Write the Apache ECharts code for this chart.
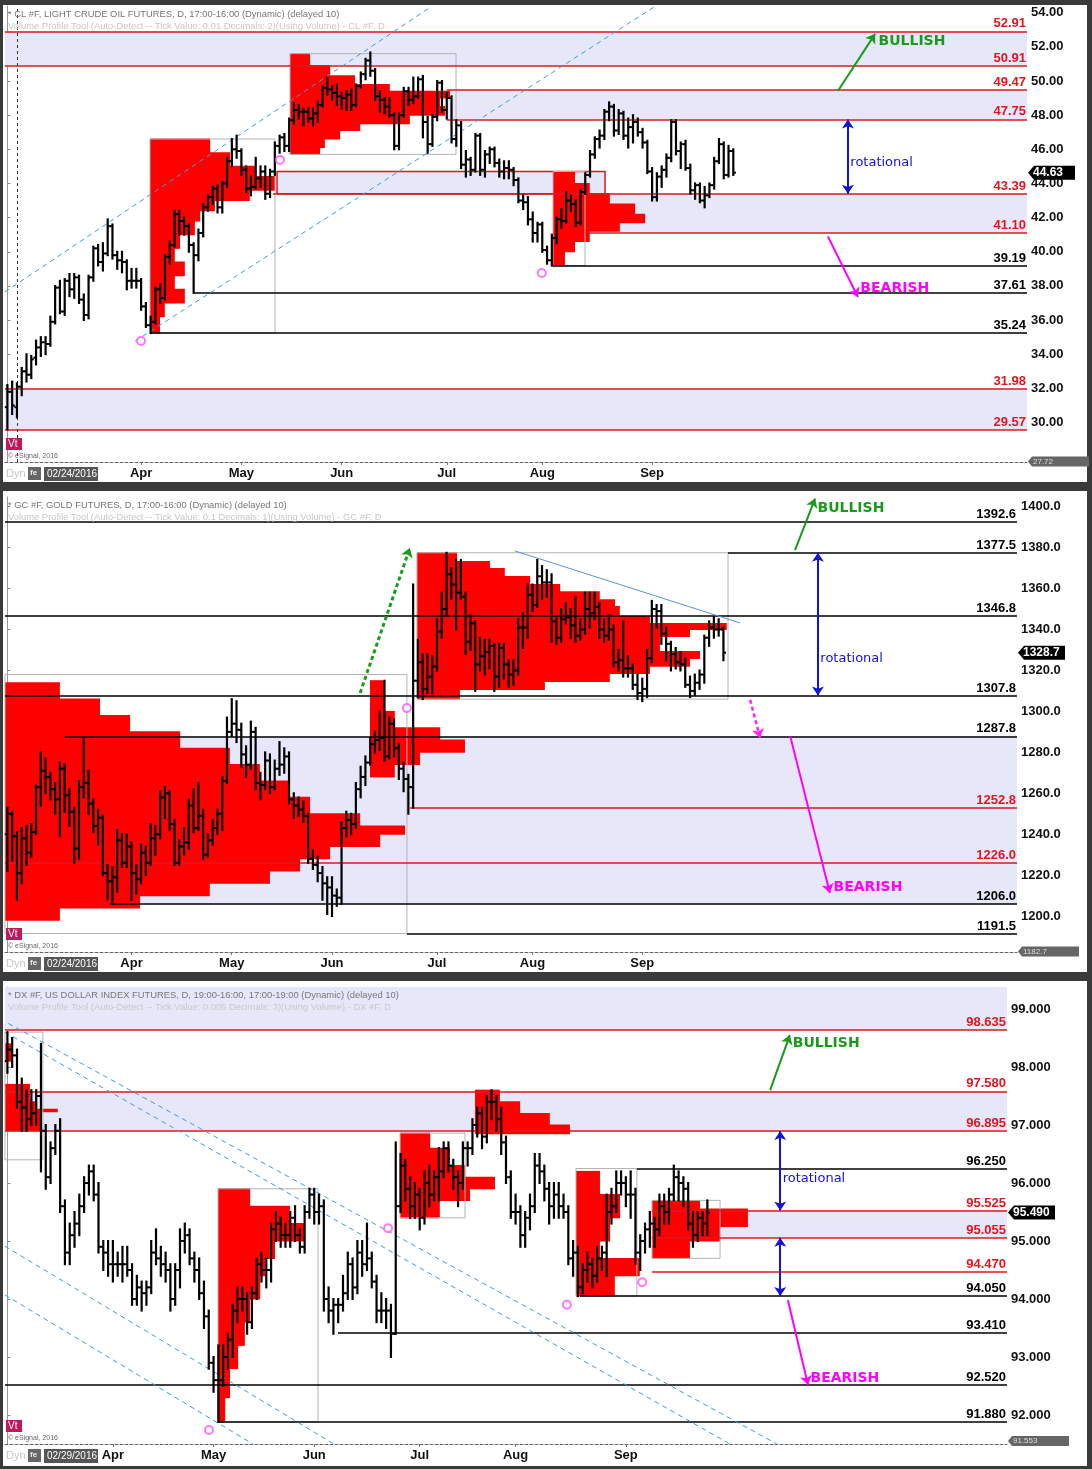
<!DOCTYPE html>
<html>
<head>
<meta charset="utf-8">
<script src="https://cdn.jsdelivr.net/npm/echarts@6/dist/echarts.min.js"></script>
<style>
  html, body { margin: 0; padding: 0; background: #3a3a3a; }
  .panel { position: absolute; left: 3px; width: 1084px; background: #fff; }
  #chart { position: absolute; left: 0; top: 0; width: 1092px; height: 1469px; }
</style>
</head>
<body>
<div class="panel" style="top:5px;height:477px"></div>
<div class="panel" style="top:491px;height:481px"></div>
<div class="panel" style="top:981px;height:485px"></div>
<div id="chart"></div>
<script>
// ---------- data ----------
const holidays = ['2016-03-25', '2016-05-30', '2016-07-04', '2016-09-05', '2016-11-24', '2016-12-26'];
const monthNames = { '04': 'Apr', '05': 'May', '06': 'Jun', '07': 'Jul', '08': 'Aug', '09': 'Sep' };

// crude oil, daily [open, high, low, close] from 2016-02-22
const clBars = [
  [30.9,32.2,29.6,31.8],[31.8,32.4,30.5,31.0],[30.9,32.3,30.3,32.1],[32.1,33.2,31.6,33.0],[33.0,34.0,32.4,32.8],
  [32.8,33.9,32.6,33.7],[33.8,34.8,33.4,34.4],[34.4,35.0,33.9,34.7],[34.7,35.0,34.0,34.6],[34.6,36.2,34.5,35.9],
  [35.9,38.0,35.8,37.9],[37.9,38.3,36.4,36.5],[36.5,38.4,36.3,38.3],[38.3,38.7,37.4,37.8],[37.8,38.7,37.3,38.5],
  [38.5,38.6,37.0,37.2],[37.2,37.5,36.0,36.3],[36.3,38.6,36.1,38.5],[38.5,40.3,38.3,40.2],[40.2,40.4,39.2,39.4],
  [39.4,40.5,38.9,39.9],[39.9,41.9,39.8,41.5],[41.5,41.6,39.6,39.8],[39.8,40.0,39.0,39.5],[39.5,40.0,38.8,39.4],
  [39.4,39.5,37.8,38.3],[38.3,39.0,37.9,38.3],[38.3,39.0,37.9,38.3],[38.3,38.4,36.6,36.8],[36.8,37.0,35.6,35.7],
  [35.7,36.2,35.24,35.9],[35.9,37.9,35.8,37.8],[37.8,38.1,37.0,37.3],[37.3,39.8,37.2,39.7],[39.7,40.6,39.3,40.4],
  [40.4,42.4,40.3,42.2],[42.2,42.4,41.0,41.8],[41.8,42.0,41.0,41.5],[41.5,41.6,40.0,40.4],[40.4,40.5,37.61,39.8],
  [39.8,41.3,39.5,41.1],[41.1,42.8,40.9,42.6],[42.6,43.3,42.4,43.2],[43.2,43.8,42.8,43.7],[43.7,43.9,42.3,42.6],
  [42.6,44.1,42.3,44.0],[44.0,45.5,43.8,45.3],[45.3,46.6,45.0,46.0],[46.0,46.8,45.5,45.9],[45.9,46.0,44.5,44.8],
  [44.8,45.0,43.5,43.7],[43.7,44.4,43.3,43.8],[43.8,45.5,43.7,44.3],[44.3,45.0,43.8,44.7],[44.7,45.0,43.1,43.4],
  [43.4,44.8,43.2,44.7],[44.7,46.4,44.5,46.2],[46.2,46.8,45.8,46.7],[46.7,46.9,45.9,46.2],[46.2,47.8,45.9,47.7],
  [47.7,48.7,47.5,48.3],[48.3,48.6,47.8,48.2],[48.2,48.4,47.4,48.2],[48.2,48.4,47.6,47.8],[47.8,48.4,47.4,48.1],
  [48.1,48.8,47.6,48.6],[48.6,49.7,48.5,49.6],[49.6,50.2,49.2,49.5],[49.5,49.7,48.9,49.3],[49.3,49.8,48.6,49.1],
  [49.1,49.3,48.4,49.0],[49.0,49.4,48.3,49.2],[49.2,49.5,48.3,48.6],[48.6,49.8,48.5,49.7],[49.7,50.5,49.6,50.4],
  [50.4,51.3,50.1,51.2],[51.2,51.67,50.3,50.6],[50.6,50.7,48.9,49.1],[49.1,49.4,48.2,48.9],[48.9,49.0,48.1,48.5],
  [48.5,49.0,47.9,48.0],[48.0,48.1,46.0,46.2],[46.2,48.1,46.0,48.0],[48.0,49.6,47.9,49.4],[49.4,49.6,48.6,48.9],
  [48.9,50.2,48.7,49.1],[49.1,50.2,49.0,50.1],[50.1,50.3,46.7,47.6],[47.6,47.9,45.8,46.3],[46.3,48.0,46.2,47.9],
  [47.9,50.0,47.7,49.9],[49.9,50.0,48.2,48.3],[48.3,49.3,47.8,49.0],[49.0,49.1,46.4,46.6],[46.6,47.7,46.2,47.4],
  [47.4,47.6,44.9,45.1],[45.1,45.9,44.4,45.4],[45.4,45.5,44.5,44.8],[44.8,46.9,44.7,46.8],[46.8,46.9,44.5,44.8],
  [44.8,45.9,44.4,45.7],[45.7,46.1,45.2,46.0],[46.0,46.1,45.0,45.2],[45.2,45.4,44.4,44.7],[44.7,45.3,44.3,44.9],
  [44.9,45.3,44.3,44.8],[44.8,44.9,43.9,44.2],[44.2,44.3,42.9,43.0],[43.0,43.3,42.5,42.9],[42.9,43.2,41.6,41.9],
  [41.9,42.3,40.6,41.1],[41.1,41.7,40.6,41.6],[41.6,41.7,40.0,40.1],[40.1,40.3,39.3,39.5],[39.5,41.0,39.19,40.8],
  [40.8,42.0,40.5,41.9],[41.9,42.5,41.4,41.8],[41.8,43.5,41.7,43.0],[43.0,43.3,42.4,42.8],[42.8,43.0,41.5,41.7],
  [41.7,43.6,41.6,43.5],[43.5,44.6,43.4,44.5],[44.5,45.9,44.4,45.7],[45.7,46.7,45.5,46.6],[46.6,47.1,46.1,46.8],
  [46.8,48.3,46.6,48.2],[48.2,48.75,47.7,48.5],[48.5,48.6,46.8,47.1],[47.1,48.3,46.9,48.1],[48.1,48.2,46.6,46.8],
  [46.8,47.8,46.1,47.3],[47.3,48.0,46.4,47.6],[47.6,47.8,46.8,47.0],[47.0,47.2,46.1,46.4],[46.4,46.5,44.6,44.7],
  [44.7,44.9,43.0,43.2],[43.2,44.6,43.0,44.4],[44.4,45.0,43.8,44.8],[44.8,45.7,44.4,45.5],[45.5,47.7,45.3,47.6],
  [47.6,47.7,45.7,45.9],[45.9,46.4,44.9,46.3],[46.3,46.5,44.8,44.9],[44.9,45.1,43.4,43.6],[43.6,44.0,43.1,43.9],
  [43.9,44.0,42.9,43.0],[43.0,43.8,42.6,43.3],[43.3,44.0,43.2,43.9],[43.9,45.5,43.7,45.3],[45.3,46.6,45.2,46.3],
  [46.3,46.4,44.3,44.5],[44.5,46.2,44.4,45.9],[45.9,46.0,44.5,44.63]
];

// gold, daily [open, high, low, close] from 2016-02-24
const gcBars = [
  [1240,1253,1222,1250],[1250,1251,1227,1239],[1239,1241,1208,1221],[1221,1243,1216,1238],[1238,1244,1225,1231],
  [1231,1245,1229,1241],[1241,1264,1240,1263],[1263,1280,1254,1271],[1271,1277,1260,1268],[1268,1270,1257,1262],
  [1262,1265,1250,1257],[1257,1275,1239,1272],[1272,1274,1251,1259],[1259,1262,1244,1251],[1251,1253,1226,1233],
  [1233,1266,1228,1263],[1263,1287,1258,1265],[1265,1271,1250,1255],[1255,1257,1241,1244],[1244,1252,1235,1248],
  [1248,1249,1220,1221],[1221,1225,1208,1217],[1217,1224,1207,1219],[1219,1242,1212,1237],[1237,1240,1224,1226],
  [1226,1240,1224,1234],[1234,1236,1208,1221],[1221,1225,1211,1218],[1218,1235,1216,1231],[1231,1234,1220,1226],
  [1226,1245,1225,1238],[1238,1244,1230,1240],[1240,1261,1238,1258],[1258,1263,1248,1260],[1260,1261,1242,1245],
  [1245,1247,1225,1226],[1226,1237,1225,1234],[1234,1243,1230,1236],[1236,1257,1233,1254],[1254,1262,1241,1243],
  [1243,1265,1242,1249],[1249,1252,1228,1230],[1230,1240,1229,1237],[1237,1247,1235,1243],[1243,1252,1240,1250],
  [1250,1268,1242,1266],[1266,1297,1265,1290],[1290,1306,1288,1294],[1294,1305,1285,1291],[1291,1294,1273,1279],
  [1279,1283,1268,1274],[1274,1295,1272,1290],[1290,1292,1262,1265],[1265,1270,1257,1264],[1264,1280,1262,1276],
  [1276,1279,1260,1263],[1263,1276,1262,1272],[1272,1285,1269,1274],[1274,1282,1270,1278],[1278,1280,1255,1257],
  [1257,1260,1248,1254],[1254,1258,1249,1252],[1252,1256,1246,1249],[1249,1250,1226,1228],[1228,1232,1223,1225],
  [1225,1229,1217,1221],[1221,1224,1208,1216],[1216,1219,1201,1214],[1214,1219,1200,1210],[1210,1213,1205,1209],
  [1209,1246,1206,1243],[1243,1251,1239,1247],[1247,1250,1240,1245],[1245,1265,1243,1262],[1262,1273,1258,1268],
  [1268,1278,1264,1275],[1275,1287,1274,1284],[1284,1290,1280,1286],[1286,1300,1281,1287],[1287,1315,1276,1278],
  [1278,1297,1277,1294],[1294,1296,1278,1282],[1282,1284,1267,1272],[1272,1275,1261,1267],[1267,1269,1250,1263],
  [1263,1362,1253,1315],[1315,1335,1307,1324],[1324,1328,1306,1311],[1311,1328,1309,1317],[1317,1327,1309,1322],
  [1322,1345,1320,1339],[1339,1358,1336,1350],[1350,1377.5,1347,1367],[1367,1370,1355,1362],[1362,1374,1340,1358],
  [1358,1374,1355,1356],[1356,1358,1328,1334],[1334,1347,1330,1343],[1343,1344,1310,1323],[1323,1336,1320,1327],
  [1327,1335,1318,1329],[1329,1335,1321,1332],[1332,1333,1310,1317],[1317,1333,1312,1331],[1331,1333,1316,1323],
  [1323,1325,1312,1318],[1318,1325,1313,1320],[1320,1345,1318,1341],[1341,1348,1331,1341],[1341,1362,1336,1357],
  [1357,1362,1349,1352],[1352,1374,1351,1366],[1366,1371,1355,1363],[1363,1369,1356,1363],[1363,1367,1334,1344],
  [1344,1346,1333,1336],[1336,1350,1334,1345],[1345,1353,1343,1346],[1346,1350,1336,1342],[1342,1356,1334,1337],
  [1337,1345,1335,1340],[1340,1358,1338,1350],[1350,1358,1341,1348],[1348,1358,1345,1351],[1351,1353,1336,1340],
  [1340,1345,1334,1337],[1337,1347,1335,1340],[1340,1342,1322,1324],[1324,1330,1320,1325],[1325,1344,1317,1321],
  [1321,1327,1317,1321],[1321,1323,1311,1313],[1313,1318,1306,1309],[1309,1316,1305,1311],[1311,1330,1307,1326],
  [1326,1354,1324,1350],[1350,1352,1341,1349],[1349,1352,1333,1338],[1338,1341,1325,1333],[1333,1334,1320,1328],
  [1328,1331,1321,1324],[1324,1329,1320,1323],[1323,1326,1312,1313],[1313,1317,1307,1310],[1310,1318,1308,1314],
  [1314,1320,1311,1318],[1318,1337,1314,1336],[1336,1344,1332,1341],[1341,1346,1336,1340],[1340,1345,1337,1340],
  [1340,1341,1325,1328.7]
];

// us dollar index, daily [open, high, low, close] from 2016-03-01
const dxBars = [
  [98.1,98.6,97.9,98.3],[98.3,98.5,98.0,98.2],[98.2,98.3,97.3,97.4],[97.4,97.8,96.9,97.3],[97.3,97.6,96.9,97.1],
  [97.1,97.6,97.0,97.2],[97.2,97.6,97.0,97.5],[97.5,98.4,96.2,96.9],[96.9,97.0,95.9,96.1],[96.1,96.7,96.0,96.6],
  [96.6,97.0,96.5,96.9],[96.9,97.1,95.5,95.6],[95.6,95.7,94.6,94.8],[94.8,95.3,94.6,95.1],[95.1,95.5,94.9,95.3],
  [95.3,95.8,95.1,95.6],[95.6,96.1,95.5,96.0],[96.0,96.3,95.8,96.2],[96.2,96.3,95.7,95.8],[95.8,96.0,94.8,94.9],
  [94.9,95.0,94.5,94.8],[94.8,95.0,94.4,94.6],[94.6,95.0,94.3,94.6],[94.6,94.8,94.4,94.6],[94.6,94.9,94.3,94.6],
  [94.6,94.9,94.4,94.5],[94.5,94.6,93.9,94.0],[94.0,94.4,93.9,94.2],[94.2,94.3,93.8,94.1],[94.1,94.3,93.9,94.2],
  [94.2,95.0,94.1,94.8],[94.8,95.2,94.6,94.7],[94.7,94.9,94.4,94.6],[94.6,94.8,94.3,94.5],[94.5,94.6,93.8,94.0],
  [94.0,94.6,93.9,94.5],[94.5,95.2,94.2,95.0],[95.0,95.3,94.8,95.1],[95.1,95.2,94.6,94.7],[94.7,94.8,94.3,94.5],
  [94.5,94.7,94.0,94.1],[94.1,94.3,93.5,93.7],[93.7,93.8,92.8,92.9],[92.9,93.0,92.4,92.6],[92.6,93.2,91.88,92.6],
  [92.6,93.2,92.5,93.0],[93.0,93.4,92.8,93.3],[93.3,93.9,93.0,93.8],[93.8,94.2,93.6,94.0],[94.0,94.2,93.8,94.0],
  [94.0,94.1,93.4,93.6],[93.6,94.2,93.5,94.1],[94.1,94.7,94.0,94.6],[94.6,94.8,94.3,94.5],[94.5,94.7,94.2,94.5],
  [94.5,95.3,94.3,95.2],[95.2,95.5,95.0,95.3],[95.3,95.4,94.9,95.1],[95.1,95.3,94.9,95.1],[95.1,95.5,94.9,95.4],
  [95.4,95.6,95.0,95.1],[95.1,95.2,94.8,94.9],[94.9,95.6,94.8,95.5],[95.5,95.9,95.4,95.8],[95.8,95.9,95.3,95.5],
  [95.5,95.8,95.3,95.6],[95.6,95.7,93.8,94.0],[94.0,94.2,93.6,93.8],[93.8,94.0,93.4,93.9],[93.9,94.0,93.6,93.9],
  [93.9,94.4,93.8,94.1],[94.1,94.8,94.0,94.6],[94.6,94.7,94.0,94.2],[94.2,95.0,94.1,94.8],[94.8,95.0,94.4,94.6],
  [94.6,95.3,94.5,94.7],[94.7,94.8,94.2,94.3],[94.3,94.4,93.6,93.8],[93.8,94.1,93.6,93.8],[93.8,94.0,93.5,93.8],
  [93.8,93.9,93.0,93.4],[93.4,96.7,93.4,95.6],[95.6,96.5,95.5,96.3],[96.3,96.4,95.7,95.9],[95.9,96.1,95.4,95.6],
  [95.6,96.0,95.4,95.8],[95.8,95.9,95.2,95.4],[95.4,96.2,95.3,96.0],[96.0,96.3,95.6,95.8],[95.8,96.2,95.7,96.1],
  [96.1,96.6,95.7,96.2],[96.2,96.7,96.1,96.6],[96.6,96.7,96.2,96.3],[96.3,96.4,95.9,96.1],[96.1,96.2,95.6,96.0],
  [96.0,96.7,95.9,96.6],[96.6,96.7,96.3,96.6],[96.6,97.1,96.5,97.0],[97.0,97.3,96.8,97.2],[97.2,97.3,96.6,96.8],
  [96.8,97.5,96.7,97.4],[97.4,97.6,97.1,97.4],[97.4,97.5,96.9,97.1],[97.1,97.3,96.5,96.7],[96.7,96.8,96.0,96.1],
  [96.1,96.2,95.4,95.5],[95.5,95.8,95.3,95.5],[95.5,95.6,94.9,95.1],[95.1,95.5,94.9,95.4],[95.4,95.8,95.2,95.6],
  [95.6,96.5,95.5,96.3],[96.3,96.5,96.0,96.2],[96.2,96.3,95.7,95.9],[95.9,96.0,95.3,95.6],[95.6,96.0,95.4,95.8],
  [95.8,96.0,95.4,95.6],[95.6,95.8,95.4,95.5],[95.5,95.6,94.6,94.7],[94.7,95.0,94.4,94.8],[94.8,94.9,94.05,94.2],
  [94.2,94.6,94.1,94.5],[94.5,94.8,94.3,94.6],[94.6,94.7,94.2,94.4],[94.4,94.9,94.3,94.7],[94.7,94.9,94.5,94.8],
  [94.8,95.8,94.4,95.5],[95.5,95.9,95.3,95.6],[95.6,96.2,95.5,96.0],[96.0,96.2,95.8,96.0],[96.0,96.1,95.6,95.8],
  [95.8,96.2,95.4,95.8],[95.8,95.9,94.6,94.8],[94.8,95.1,94.5,95.0],[95.0,95.3,94.8,95.2],[95.2,95.5,94.9,95.3],
  [95.3,95.4,94.9,95.2],[95.2,95.8,95.1,95.6],[95.6,95.8,95.3,95.5],[95.5,95.9,95.3,95.8],[95.8,96.3,95.7,96.1],
  [96.1,96.2,95.7,96.0],[96.0,96.1,95.6,95.9],[95.9,96.0,95.2,95.3],[95.3,95.5,94.9,95.1],[95.1,95.5,95.0,95.4],
  [95.4,95.5,95.1,95.3],[95.3,95.7,95.1,95.49]
];

// volume profiles: anchor (bar units) and rows [low, high, length in bars]
const clProfiles = [
  { at: 29.86, rows: [[45.8,46.6,12.6],[45.0,45.8,16.8],[44.4,45.0,22],[43.6,44.4,26.2],[43.0,43.6,20.9],[42.4,43.0,13.6],
    [41.8,42.4,10.5],[41.0,41.8,9.4],[40.2,41.0,6.3],[39.4,40.2,5.2],[38.6,39.4,7.3],[37.8,38.6,5.2],[37.0,37.8,7.3],[36.2,37.0,3.1],[35.24,36.2,2.1]] },
  { at: 59.18, rows: [[50.91,51.6,4.2],[50.3,50.91,8.4],[49.8,50.3,13.6],[49.4,49.8,20.9],[49.0,49.4,33.5],[48.5,49.0,31.4],
    [48.0,48.5,32.5],[47.5,48.0,25.1],[47.1,47.5,14.7],[46.6,47.1,10.5],[46.1,46.6,7.3],[45.7,46.1,6.3]] },
  { at: 114.25, rows: [[44.0,44.7,4.6],[43.4,44.0,7.7],[42.8,43.4,11.9],[42.2,42.8,17.2],[41.7,42.2,19.3],[41.2,41.7,14],
    [40.6,41.2,7.7],[40.0,40.6,4.6],[39.19,40.0,2.5]] }
];
const gcProfiles = [
  { at: -0.5, rows: [[1306,1314,11.5],[1298,1306,19.9],[1290,1298,26.2],[1282,1290,36.7],[1274,1282,47.1],[1266,1274,53.4],
    [1258,1266,59.7],[1250,1258,63.9],[1244,1250,74.4],[1240,1244,83.8],[1234,1240,78.6],[1228,1234,68.1],[1222,1228,61.8],
    [1216,1222,55.5],[1210,1216,42.9],[1204,1210,28.3],[1198,1204,11.5]] },
  { at: 75.96, rows: [[1300,1315,3.1],[1292,1300,5.2],[1286,1292,14.7],[1280,1286,19.9],[1274,1280,10.5],[1268,1274,5.2]] },
  { at: 85.8, rows: [[1373.2,1377.5,8.4],[1369.8,1373.2,15.3],[1365.9,1369.8,18.4],[1362,1365.9,23.7],[1358.5,1362,30],
    [1354.6,1358.5,38.3],[1351.2,1354.6,41.5],[1346.3,1351.2,42.5],[1342.9,1346.3,48.8],[1340,1342.9,64.9],[1336.6,1340,57.2],
    [1333.2,1336.6,50.9],[1329.3,1333.2,50.9],[1325.9,1329.3,59.3],[1322,1325.9,57.2],[1318.5,1322,48.8],[1314.6,1318.5,40.4],
    [1310.7,1314.6,26.8],[1306,1310.7,9.0]] }
];
const dxProfiles = [
  { at: -0.5, rows: [[98.1,98.4,1.5],[97.4,97.7,5.2],[97.27,97.4,6.7],[97.23,97.27,11],[96.9,97.23,7.3]] },
  { at: 43.93, rows: [[95.6,95.9,6.7],[95.3,95.6,15],[95.0,95.3,18.1],[94.7,95.0,11.9],[94.4,94.7,9.8],[94.0,94.4,8.8],
    [93.6,94.0,6.7],[93.2,93.6,5.6],[92.8,93.2,4.2],[92.3,92.8,2.5],[91.88,92.3,1.5]] },
  { at: 81.9, rows: [[96.6,96.86,6.3],[96.3,96.6,10.4],[96.1,96.3,13.6],[95.9,96.1,19.8],[95.7,95.9,14.6],[95.4,95.7,8.3]] },
  { at: 97.54, rows: [[97.4,97.6,5.2],[97.2,97.4,9.4],[97.0,97.2,15.6],[96.85,97.0,19.8]] },
  { at: 118.6, rows: [[95.8,96.2,5],[95.4,95.8,9.2],[95.0,95.4,7.1],[94.7,95.0,5],[94.4,94.7,13.3],[94.05,94.4,8.1]] },
  { at: 134.46, rows: [[95.55,95.7,10],[95.25,95.55,20],[95.0,95.25,14.2],[94.7,95.0,7.9]] }
];

// profile boxes [from, to, low, high]
const clBoxes = [[29.86,56.04,35.24,46.6],[59.18,93.94,45.7,51.6],[114.25,120.95,39.19,44.7]];
const gcBoxes = [[-0.5,83.7,1191.5,1318],[85.8,150.96,1306,1377.5]];
const dxBoxes = [[-0.5,7.4,96.4,98.6],[43.93,64.79,91.88,95.9],[81.9,95.45,95.4,96.86],[118.6,131.3,94.05,96.25],[134.46,148.65,94.7,95.7]];

// levels [price, starting bar]
const clRedLevels = [[52.91,-0.5],[50.91,-0.5],[49.47,92],[47.75,92],[43.39,55.6],[41.10,121],[31.98,-0.5],[29.57,-0.5]];
const clBlackLevels = [[39.19,114.25],[37.61,38.87],[35.24,29.86]];
const gcRedLevels = [[1252.8,84.34],[1226.0,-0.5]];
const gcBlackLevels = [[1392.6,-0.5],[1377.5,150.96],[1346.8,-0.5],[1307.8,-0.5],[1287.8,12.07],[1206.0,21.5],[1191.5,83.7]];
const dxRedLevels = [[98.635,-0.5],[97.580,-0.5],[96.895,-0.5],[95.525,134.46],[95.055,134.46],[94.470,134.46]];
const dxBlackLevels = [[96.250,131.3],[94.050,119.44],[93.410,68.96],[92.520,-0.5],[91.880,43.93]];

// shaded zones [from bar, low, high]
const clZones = [[-0.5,50.91,52.91],[92,47.75,49.47],[121,41.10,43.39],[-0.5,29.57,31.98]];
const clBoxZone = [56.46, 125.14, 43.39, 44.7];
const gcZones = [[-0.5,1206.0,1287.8]];
const dxZones = [[-0.5,98.635,99.4],[-0.5,96.895,97.580],[134.46,95.055,95.525]];

// trend channels [[bar, price], [bar, price]]
const clChannels = [[[-0.5,37.65],[88.7,54.35]],[[26.7,34.76],[135.5,54.35]]];
const gcTrend = [[[106.3,1378.4],[153.5,1343.2]]];
const dxChannels = [[[0.2,98.75],[160.5,91.5]],[[-0.5,98.6],[150.7,91.5]],[[-0.5,94.07],[51.2,91.5]],[[-0.5,94.91],[68.1,91.5]]];

// pink markers [bar, price]
const clMarks = [[27.98,34.78],[57.08,45.38],[111.9,38.76]];
const gcMarks = [[83.7,1301.6]];
const dxMarks = [[42.05,91.74],[79.4,95.22],[116.7,93.9],[132.4,94.29]];

const lastPrices = [44.63, 1328.7, 95.49];
const lowPrices = [27.72, 1182.7, 91.553];

// ---------- layout ----------
const FONT = 'Liberation Sans, Arial, sans-serif';
const WORD_FONT = 'DejaVu Sans, Verdana, sans-serif';
const RED = '#e3161f';
const panels = [
  { start: '2016-02-22', count: 214, left: 5, top: 6, width: 1022, height: 456, min: 27.69, max: 54.39,
    ticks: [30,32,34,36,38,40,42,44,46,48,50,52,54], dec: 2,
    bars: clBars, profiles: clProfiles, boxes: clBoxes, red: clRedLevels, black: clBlackLevels, zones: clZones,
    channels: clChannels, marks: clMarks,
    header: '* CL #F, LIGHT CRUDE OIL FUTURES, D, 17:00-16:00 (Dynamic) (delayed 10)',
    sub: 'Volume Profile Tool (Auto-Detect -- Tick Value: 0.01 Decimals: 2)(Using Volume) - CL #F, D', date: '02/24/2016' },
  { start: '2016-02-24', count: 212, left: 5, top: 497, width: 1012, height: 455, min: 1182.46, max: 1404.74,
    ticks: [1200,1220,1240,1260,1280,1300,1320,1340,1360,1380,1400], dec: 1,
    bars: gcBars, profiles: gcProfiles, boxes: gcBoxes, red: gcRedLevels, black: gcBlackLevels, zones: gcZones,
    channels: gcTrend, marks: gcMarks,
    header: '* GC #F, GOLD FUTURES, D, 17:00-16:00 (Dynamic) (delayed 10)',
    sub: 'Volume Profile Tool (Auto-Detect -- Tick Value: 0.1 Decimals: 1)(Using Volume) - GC #F, D', date: '02/24/2016' },
  { start: '2016-03-01', count: 209, left: 5, top: 987, width: 1002, height: 457, min: 91.5, max: 99.379,
    ticks: [92,93,94,95,96,97,98,99], dec: 3,
    bars: dxBars, profiles: dxProfiles, boxes: dxBoxes, red: dxRedLevels, black: dxBlackLevels, zones: dxZones,
    channels: dxChannels, marks: dxMarks,
    header: '* DX #F, US DOLLAR INDEX FUTURES, D, 19:00-16:00, 17:00-19:00 (Dynamic) (delayed 10)',
    sub: 'Volume Profile Tool (Auto-Detect -- Tick Value: 0.005 Decimals: 3)(Using Volume) - DX #F, D', date: '02/29/2016' }
];

// annotations per panel: arrows and words (bar, price)
const annotations = [
  { bull: [[173.9,49.41],[181.7,52.76]], rot: [[176.0,47.75],[176.0,43.39]], bear: [[171.8,40.9],[178.1,37.35]],
    words: [[182.3,52.34,'BULLISH'],[176.4,45.2,'rotational'],[178.5,37.88,'BEARISH']] },
  { bull: [[165.0,1378.8],[169.2,1404.0]], rot: [[169.8,1377.5],[169.8,1307.8]], bear: [[164.0,1287.8],[172.3,1211.3]],
    words: [[169.6,1399.4,'BULLISH'],[170.2,1325.6,'rotational'],[172.96,1213.8,'BEARISH']],
    dotted: [[73.9,1309.0],[84.3,1379.8]], dashed: [[155.6,1305.6],[157.7,1287.0]] },
  { bull: [[159.1,97.60],[163.2,98.55]], rot: [[161.2,96.895],[161.2,95.525]], rot2: [[161.2,95.055],[161.2,94.05]],
    bear: [[162.8,93.98],[167.0,92.52]],
    words: [[163.7,98.40,'BULLISH'],[161.6,96.07,'rotational'],[167.4,92.64,'BEARISH']] }
];

// ---------- helpers ----------
function tradingDays(start, n) {
  const out = [];
  const d = new Date(start + 'T00:00:00Z');
  while (out.length < n) {
    const s = d.toISOString().slice(0, 10);
    const wd = d.getUTCDay();
    if (wd !== 0 && wd !== 6 && holidays.indexOf(s) < 0) out.push(s);
    d.setUTCDate(d.getUTCDate() + 1);
  }
  return out;
}
function monthStarts(days) {
  const res = {};
  let prev = '';
  days.forEach(function(s, i) {
    const m = s.slice(5, 7);
    if (m !== prev) { if (monthNames[m]) res[i] = monthNames[m]; prev = m; }
  });
  return res;
}

function renderBar(params, api) {
  const x = api.value(0);
  const o = api.coord([x, api.value(1)]);
  const h = api.coord([x, api.value(2)]);
  const l = api.coord([x, api.value(3)]);
  const c = api.coord([x, api.value(4)]);
  const st = { stroke: '#000', lineWidth: 2.2 };
  return { type: 'group', children: [
    { type: 'line', shape: { x1: h[0], y1: h[1] - 1, x2: l[0], y2: l[1] + 1 }, style: st },
    { type: 'line', shape: { x1: o[0] - 2.6, y1: o[1], x2: o[0], y2: o[1] }, style: { stroke: '#000', lineWidth: 2 } },
    { type: 'line', shape: { x1: c[0], y1: c[1], x2: c[0] + 2.6, y2: c[1] }, style: { stroke: '#000', lineWidth: 2 } }
  ] };
}
function renderProfile(params, api) {
  const a = api.value(0);
  const p1 = api.coord([a, api.value(2)]);
  const p2 = api.coord([a + api.value(3), api.value(1)]);
  return { type: 'rect', shape: { x: p1[0], y: p1[1] - 0.5, width: p2[0] - p1[0], height: p2[1] - p1[1] + 1 },
    style: { fill: '#ff0000' } };
}
function renderBox(params, api) {
  const p1 = api.coord([api.value(0), api.value(3)]);
  const p2 = api.coord([api.value(1), api.value(2)]);
  return { type: 'rect', shape: { x: p1[0], y: p1[1], width: p2[0] - p1[0], height: p2[1] - p1[1] },
    style: { fill: 'none', stroke: '#b4b4b4', lineWidth: 1 } };
}

function levelItems(levels, color, end, dec) {
  return levels.map(function(l) {
    return [
      { coord: [l[1], l[0]], lineStyle: { color: color, width: 1.6, type: 'solid' },
        label: { show: true, position: 'insideEndTop', distance: [1, 1], formatter: l[0].toFixed(dec),
          color: color, fontWeight: 'bold', fontSize: 13, fontFamily: FONT } },
      { coord: [end, l[0]] }
    ];
  });
}
function arrow(seg, color, width, type, both) {
  return [
    { coord: seg[0], symbol: both ? 'arrow' : 'none', symbolSize: 9,
      lineStyle: { color: color, width: width, type: type } },
    { coord: seg[1], symbol: 'arrow', symbolSize: 9 }
  ];
}

// ---------- build ----------
const grids = [], xAxes = [], yAxes = [], series = [], graphics = [];
const wordColors = { BULLISH: '#1a9a1a', rotational: '#1212d8', BEARISH: '#ff00ff' };

panels.forEach(function(p, k) {
  const days = tradingDays(p.start, p.count);
  const starts = monthStarts(days);
  const showIdx = function(i) { return starts[i] !== undefined; };
  const end = p.count - 0.5;
  grids.push({ left: p.left, top: p.top, width: p.width, height: p.height, containLabel: false });
  xAxes.push({
    type: 'category', gridIndex: k, data: days, boundaryGap: true,
    axisLine: { show: true, lineStyle: { color: '#666', type: [3, 2], width: 1 } },
    axisTick: { show: true, interval: showIdx, alignWithLabel: true, length: 3, lineStyle: { color: '#777' } },
    axisLabel: { interval: showIdx, formatter: function(v, i) { return starts[i] || ''; },
      fontWeight: 'bold', fontSize: 13, color: '#111', margin: 5, fontFamily: FONT },
    splitLine: { show: false }
  });
  xAxes.push({ type: 'value', gridIndex: k, min: -0.5, max: end, show: false });
  yAxes.push({
    type: 'value', gridIndex: k, position: 'right', min: p.min, max: p.max,
    axisLine: { show: true, lineStyle: { color: '#999', width: 1 } },
    axisTick: { show: true, length: 3, customValues: p.ticks, lineStyle: { color: '#888' } },
    axisLabel: { customValues: p.ticks, formatter: function(v) { return v.toFixed(p.dec); },
      fontWeight: 'bold', fontSize: 13, color: '#111', margin: 4, fontFamily: FONT },
    splitLine: { show: false }
  });
  const xi = 2 * k + 1, yi = k;

  // shaded zones
  const zoneData = p.zones.map(function(z) {
    return [{ coord: [z[0], z[2]] }, { coord: [end, z[1]] }];
  });
  if (k === 0) {
    zoneData.push([{ coord: [clBoxZone[0], clBoxZone[3]], itemStyle: { borderColor: RED, borderWidth: 1.5 } },
      { coord: [clBoxZone[1], clBoxZone[2]] }]);
  }
  series.push({ type: 'line', xAxisIndex: xi, yAxisIndex: yi, data: [], z: 1, silent: true,
    markArea: { silent: true, itemStyle: { color: '#e6e8f9' }, data: zoneData } });

  // volume profiles
  const profData = [];
  p.profiles.forEach(function(pr) {
    pr.rows.forEach(function(r) { profData.push([pr.at, r[0], r[1], r[2]]); });
  });
  series.push({ type: 'custom', xAxisIndex: xi, yAxisIndex: yi, z: 2, silent: true,
    renderItem: renderProfile, data: profData, animation: false });
  series.push({ type: 'custom', xAxisIndex: xi, yAxisIndex: yi, z: 3, silent: true,
    renderItem: renderBox, data: p.boxes, animation: false });

  // levels, channels
  const lineData = levelItems(p.red, RED, end, p.dec).concat(levelItems(p.black, '#000', end, p.dec));
  p.channels.forEach(function(c) {
    lineData.push([{ coord: c[0], lineStyle: { color: k === 1 ? '#5b93d0' : '#3f9be3', width: 1, type: k === 1 ? 'solid' : [5, 4] } },
      { coord: c[1] }]);
  });
  if (k === 0) {
    lineData.push([{ coord: [2, p.min], lineStyle: { color: '#333', width: 1, type: [3, 3] } }, { coord: [2, p.max] }]);
  }
  series.push({ type: 'line', xAxisIndex: xi, yAxisIndex: yi, data: [], z: 4, silent: true,
    markLine: { silent: true, symbol: ['none', 'none'], animation: false, label: { show: false }, data: lineData } });

  // price bars
  series.push({ type: 'custom', xAxisIndex: xi, yAxisIndex: yi, z: 5, silent: true, renderItem: renderBar,
    data: p.bars.map(function(b, i) { return [i, b[0], b[1], b[2], b[3]]; }), animation: false });

  // markers
  series.push({ type: 'scatter', xAxisIndex: xi, yAxisIndex: yi, z: 6, silent: true, symbol: 'emptyCircle',
    symbolSize: 8, itemStyle: { color: '#ff55ff', borderColor: '#ff55ff', borderWidth: 1 }, data: p.marks });

  // annotations
  const a = annotations[k];
  const arrows = [arrow(a.bull, '#1a9a1a', 2, 'solid'), arrow(a.rot, '#1212d8', 2, 'solid', true),
    arrow(a.bear, '#ff00ff', 2, 'solid')];
  if (a.rot2) arrows.push(arrow(a.rot2, '#1212d8', 2, 'solid', true));
  if (a.dotted) arrows.push(arrow(a.dotted, '#1a9a1a', 3, [4, 3]));
  if (a.dashed) arrows.push(arrow(a.dashed, '#ff22ff', 2.5, [4, 3]));
  series.push({ type: 'line', xAxisIndex: xi, yAxisIndex: yi, data: [], z: 7, silent: true,
    markLine: { silent: true, animation: false, label: { show: false }, data: arrows },
    markPoint: { silent: true, animation: false, symbol: 'circle', symbolSize: 1,
      itemStyle: { color: 'rgba(0,0,0,0)' },
      data: a.words.map(function(w) {
        const plain = w[2] === 'rotational';
        return { coord: [w[0], w[1]], value: w[2],
          label: { show: true, position: 'right', distance: 0, formatter: w[2], color: wordColors[w[2]],
            fontWeight: plain ? 'normal' : 'bold', fontSize: plain ? 13 : 14, fontFamily: WORD_FONT } };
      }) } });

  // header & corner decorations
  graphics.push({ type: 'text', left: 8, top: p.top + 4, z: 100, style: { text: p.header, fill: '#777', font: '9.4px ' + FONT } });
  graphics.push({ type: 'text', left: 8, top: p.top + 16, z: 100, style: { text: p.sub, fill: '#c8c8c8', font: '9.4px ' + FONT } });
  const b = p.top + p.height;
  graphics.push({ type: 'rect', z: 100, shape: { x: 6, y: b - 24, width: 16, height: 12 }, style: { fill: '#c0185c' } });
  graphics.push({ type: 'text', z: 101, left: 8, top: b - 23, style: { text: 'Vt', fill: '#fff', font: '10px ' + FONT } });
  graphics.push({ type: 'text', z: 100, left: 8, top: b - 9, style: { text: '\u00a9 eSignal, 2016', fill: '#666', font: '7px ' + FONT } });
  graphics.push({ type: 'text', z: 100, left: 6, top: b + 6, style: { text: 'Dyn', fill: '#c8c8c8', font: '11px ' + FONT } });
  graphics.push({ type: 'rect', z: 100, shape: { x: 28, y: b + 5, width: 13, height: 13 }, style: { fill: '#666' } });
  graphics.push({ type: 'text', z: 101, left: 30, top: b + 7, style: { text: 'fe', fill: '#eee', font: 'bold 8px ' + FONT } });
  graphics.push({ type: 'rect', z: 100, shape: { x: 44, y: b + 5, width: 54, height: 14 }, style: { fill: '#555' } });
  graphics.push({ type: 'text', z: 101, left: 47, top: b + 7, style: { text: p.date, fill: '#fff', font: '10px ' + FONT } });
});

const chart = echarts.init(document.getElementById('chart'), null, { renderer: 'canvas' });
chart.setOption({
  animation: false,
  backgroundColor: 'transparent',
  grid: grids, xAxis: xAxes, yAxis: yAxes, series: series, graphic: graphics
});

// price tags on the axis, placed through the y scales
const tags = [];
panels.forEach(function(p, k) {
  const xr = p.left + p.width;
  const y1 = chart.convertToPixel({ yAxisIndex: k }, lastPrices[k]);
  tags.push({ type: 'polygon', z: 100, shape: { points: [[xr + 1, y1], [xr + 7, y1 - 7], [xr + 48, y1 - 7], [xr + 48, y1 + 7], [xr + 7, y1 + 7]] },
    style: { fill: '#000' } });
  tags.push({ type: 'text', z: 101, left: xr + 6, top: y1 - 6, style: { text: lastPrices[k].toFixed(p.dec), fill: '#fff', font: 'bold 12px ' + FONT } });
  const y2 = chart.convertToPixel({ yAxisIndex: k }, lowPrices[k]);
  tags.push({ type: 'polygon', z: 100, shape: { points: [[xr + 1, y2], [xr + 5, y2 - 5], [xr + 62, y2 - 5], [xr + 62, y2 + 5], [xr + 5, y2 + 5]] },
    style: { fill: '#666' } });
  tags.push({ type: 'text', z: 101, left: xr + 6, top: y2 - 4, style: { text: lowPrices[k].toFixed(p.dec), fill: '#ddd', font: '8px ' + FONT } });
});
chart.setOption({ graphic: graphics.concat(tags) });
</script>
</body>
</html>
